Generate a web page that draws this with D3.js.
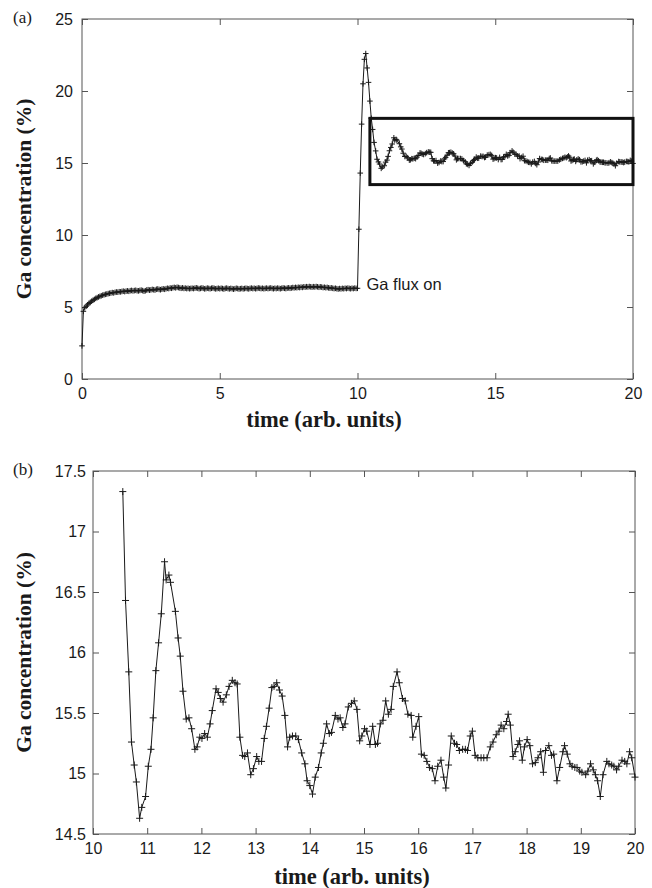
<!DOCTYPE html>
<html><head><meta charset="utf-8">
<script src="https://cdn.jsdelivr.net/npm/d3@7"></script>
<style>body{margin:0;background:#fff}</style>
</head><body>
<svg id="c" width="652" height="888"></svg>
<script>
// ---- DATA ----
// panel (a): sampled every 0.05 time units from t = 0 up to t = 10.5
const topStart = 0;
const topStep = 0.05;
const topValues = [
 2.3,4.7,4.95,5.05,5.15,5.25,5.32,5.4,5.47,5.53,5.6,5.65,5.7,5.74,5.78,5.82,5.85,5.88,5.9,5.93,
 5.95,5.97,6.0,5.98,6.02,6.04,6.03,6.06,6.05,6.08,6.1,6.07,6.1,6.12,6.09,6.13,6.15,6.12,6.14,6.16,
 6.13,6.12,6.15,6.17,6.14,6.1,6.13,6.18,6.2,6.17,6.19,6.22,6.2,6.18,6.23,6.25,6.22,6.2,6.24,6.26,
 6.23,6.27,6.3,6.28,6.32,6.3,6.34,6.36,6.33,6.37,6.35,6.32,6.3,6.33,6.29,6.31,6.28,6.3,6.27,6.29,
 6.3,6.28,6.31,6.33,6.3,6.27,6.29,6.32,6.3,6.26,6.28,6.31,6.29,6.27,6.3,6.32,6.29,6.26,6.28,6.3,
 6.27,6.3,6.28,6.25,6.29,6.31,6.28,6.26,6.29,6.27,6.24,6.27,6.3,6.28,6.25,6.27,6.29,6.26,6.28,6.3,
 6.28,6.26,6.29,6.31,6.28,6.3,6.27,6.29,6.32,6.3,6.28,6.3,6.27,6.29,6.31,6.28,6.3,6.32,6.29,6.27,
 6.3,6.28,6.31,6.29,6.27,6.3,6.32,6.3,6.28,6.31,6.33,6.3,6.32,6.35,6.33,6.36,6.34,6.37,6.35,6.38,
 6.36,6.4,6.38,6.41,6.39,6.42,6.4,6.38,6.41,6.39,6.42,6.4,6.37,6.4,6.38,6.35,6.37,6.34,6.36,6.33,
 6.31,6.33,6.3,6.28,6.3,6.27,6.25,6.28,6.26,6.29,6.27,6.3,6.28,6.31,6.29,6.27,6.3,6.28,6.31,6.29,
 6.3,10.4,14.3,17.7,20.5,22.2,22.6,21.6,20.6,19.3,18.1
];
// panel (b): the boxed part of (a), t from 10.55 to 20
const zoomTimes = [
 10.55,10.60,10.66,10.71,10.76,10.80,10.86,10.90,10.97,11.02,11.07,11.11,11.16,11.21,11.26,11.32,11.35,11.40,11.43,11.52,
 11.57,11.61,11.66,11.72,11.77,11.82,11.88,11.92,11.97,12.01,12.06,12.11,12.16,12.20,12.27,12.31,12.35,12.40,12.46,12.51,
 12.57,12.62,12.66,12.71,12.76,12.80,12.85,12.91,12.96,13.02,13.06,13.11,13.16,13.20,13.25,13.30,13.34,13.39,13.44,13.49,
 13.54,13.59,13.63,13.68,13.74,13.79,13.85,13.91,13.95,14.00,14.05,14.10,14.16,14.21,14.25,14.31,14.36,14.40,14.47,14.52,
 14.56,14.61,14.65,14.71,14.77,14.82,14.87,14.92,14.96,15.01,15.05,15.11,15.16,15.21,15.25,15.30,15.35,15.40,15.45,15.50,
 15.54,15.61,15.65,15.71,15.76,15.81,15.87,15.90,15.96,16.01,16.06,16.11,16.16,16.21,16.26,16.31,16.36,16.42,16.47,16.51,
 16.56,16.61,16.67,16.71,16.76,16.82,16.87,16.91,16.96,17.00,17.05,17.10,17.16,17.21,17.27,17.33,17.38,17.44,17.49,17.53,
 17.58,17.63,17.66,17.70,17.75,17.79,17.84,17.87,17.92,17.96,18.01,18.06,18.11,18.16,18.21,18.26,18.31,18.35,18.41,18.46,
 18.50,18.56,18.61,18.67,18.70,18.75,18.80,18.84,18.89,18.93,18.98,19.02,19.09,19.13,19.18,19.23,19.27,19.31,19.36,19.41,
 19.48,19.52,19.57,19.61,19.66,19.70,19.76,19.81,19.85,19.90,19.94,20.00
];
const zoomValues = [
 17.33,16.43,15.84,15.26,15.07,14.93,14.63,14.72,14.81,15.06,15.20,15.46,15.85,16.08,16.32,16.75,16.60,16.64,16.58,16.34,
 16.12,15.97,15.68,15.45,15.46,15.37,15.20,15.22,15.30,15.29,15.33,15.30,15.41,15.52,15.70,15.67,15.62,15.59,15.65,15.72,
 15.77,15.75,15.74,15.30,15.15,15.14,15.17,14.99,15.04,15.14,15.10,15.10,15.29,15.39,15.54,15.71,15.72,15.75,15.69,15.64,
 15.48,15.22,15.30,15.31,15.31,15.28,15.17,15.08,14.94,14.90,14.83,14.97,15.05,15.17,15.25,15.41,15.33,15.34,15.48,15.45,
 15.46,15.38,15.41,15.55,15.58,15.60,15.53,15.27,15.31,15.37,15.35,15.24,15.39,15.24,15.25,15.41,15.44,15.60,15.49,15.53,
 15.72,15.84,15.75,15.62,15.60,15.49,15.48,15.30,15.39,15.47,15.16,15.15,15.10,15.05,15.04,14.94,15.06,15.11,14.97,14.88,
 15.07,15.31,15.25,15.24,15.19,15.20,15.20,15.19,15.31,15.35,15.15,15.13,15.13,15.13,15.13,15.22,15.26,15.32,15.35,15.40,
 15.37,15.43,15.49,15.40,15.14,15.18,15.24,15.27,15.11,15.22,15.28,15.23,15.08,15.09,15.13,15.18,15.01,15.19,15.23,15.15,
 15.16,14.94,15.05,15.18,15.23,15.16,15.08,15.06,15.05,15.05,15.02,15.01,14.99,15.02,15.08,15.03,14.99,14.94,14.81,14.99,
 15.10,15.08,15.07,15.06,15.03,15.06,15.11,15.10,15.08,15.18,15.13,14.97
];
// tick values
const topXTicks = [0, 5, 10, 15, 20];
const topYTicks = [0, 5, 10, 15, 20, 25];
const botXTicks = [10, 11, 12, 13, 14, 15, 16, 17, 18, 19, 20];
const botYTicks = [14.5, 15, 15.5, 16, 16.5, 17, 17.5];
// zoom box drawn in (a), in data units
const boxTimes = [10.45, 20];
const boxConc = [13.5, 18.1];
const annotation = "Ga flux on";
const annotationAt = [10.0, 6.5];

// ---- BUILD ----
const topSeries = topValues.map((v, i) => ({t: topStart + i * topStep, v}))
  .concat(zoomTimes.map((t, i) => ({t, v: zoomValues[i]})));
const botSeries = zoomTimes.map((t, i) => ({t, v: zoomValues[i]}));

const svg = d3.select("#c");
const INK = "#1a1a1a";
const FRAME = "#555";
const tickFont = "'Liberation Sans', Arial, Helvetica, sans-serif";
const serif = "'Liberation Serif', 'Times New Roman', serif";

function panel(o) {
  const x = d3.scaleLinear().domain(o.xDomain).range([o.left, o.right]);
  const y = d3.scaleLinear().domain(o.yDomain).range([o.bottom, o.top]);
  const g = svg.append("g");
  const T = 6;
  const ax = [
    [d3.axisBottom(x).tickValues(o.xTicks).tickSize(-T).tickPadding(9).tickFormat(d3.format("")), `translate(0,${o.bottom})`],
    [d3.axisTop(x).tickValues(o.xTicks).tickSize(-T).tickFormat(""), `translate(0,${o.top})`],
    [d3.axisLeft(y).tickValues(o.yTicks).tickSize(-T).tickPadding(o.yPad).tickFormat(d3.format("")), `translate(${o.left},0)`],
    [d3.axisRight(y).tickValues(o.yTicks).tickSize(-T).tickFormat(""), `translate(${o.right},0)`]
  ];
  ax.forEach(([a, tr]) => {
    const s = g.append("g").attr("transform", tr).call(a);
    s.select(".domain").remove();
    s.selectAll(".tick line").attr("stroke", FRAME).attr("stroke-width", 1);
    s.selectAll("text").attr("fill", INK).style("font-family", tickFont).style("font-size", "16px");
  });
  g.append("rect").attr("x", o.left).attr("y", o.top)
    .attr("width", o.right - o.left).attr("height", o.bottom - o.top)
    .attr("fill", "none").attr("stroke", FRAME).attr("stroke-width", 1);
  const line = d3.line().x(d => x(d.t)).y(d => y(d.v));
  g.append("path").datum(o.data).attr("d", line)
    .attr("fill", "none").attr("stroke", INK).attr("stroke-width", 1);
  const m = o.mark;
  g.append("g").selectAll("path").data(o.data).join("path")
    .attr("d", d => {
      const px = x(d.t), py = y(d.v);
      return `M${px - m},${py}H${px + m}M${px},${py - m}V${py + m}`;
    })
    .attr("stroke", INK).attr("stroke-width", 1).attr("fill", "none");
  g.append("text").attr("x", o.xTitleX).attr("y", o.xTitleY)
    .attr("text-anchor", "middle").attr("fill", INK)
    .style("font-family", serif).style("font-weight", "bold").style("font-size", "22.5px")
    .text("time (arb. units)");
  g.append("text").attr("transform", `translate(${o.yTitleX},${(o.top + o.bottom) / 2}) rotate(-90)`)
    .attr("text-anchor", "middle").attr("fill", INK)
    .style("font-family", serif).style("font-weight", "bold").style("font-size", "21.5px")
    .text("Ga concentration (%)");
  g.append("text").attr("x", 13).attr("y", o.top + 4)
    .attr("fill", INK).style("font-family", serif).style("font-size", "17px")
    .text(o.label);
  return {x, y, g};
}

const a = panel({
  xDomain: [0, 20], yDomain: [0, 25], left: 82, right: 633, top: 19, bottom: 379,
  xTicks: topXTicks, yTicks: topYTicks, yPad: 9, data: topSeries, mark: 2.8,
  xTitleX: 324, xTitleY: 427, yTitleX: 31, label: "(a)"
});
a.g.append("rect")
  .attr("x", a.x(boxTimes[0])).attr("y", a.y(boxConc[1]))
  .attr("width", a.x(boxTimes[1]) - a.x(boxTimes[0]))
  .attr("height", a.y(boxConc[0]) - a.y(boxConc[1]))
  .attr("fill", "none").attr("stroke", "#111").attr("stroke-width", 3);
a.g.append("text").attr("x", a.x(annotationAt[0]) + 9).attr("y", a.y(annotationAt[1]))
  .attr("dominant-baseline", "middle").attr("fill", INK)
  .style("font-family", tickFont).style("font-size", "16.5px").text(annotation);

panel({
  xDomain: [10, 20], yDomain: [14.5, 17.5], left: 93, right: 635, top: 471, bottom: 834,
  xTicks: botXTicks, yTicks: botYTicks, yPad: 7, data: botSeries, mark: 3.5,
  xTitleX: 352, xTitleY: 884, yTitleX: 31, label: "(b)"
});
</script>
</body></html>
